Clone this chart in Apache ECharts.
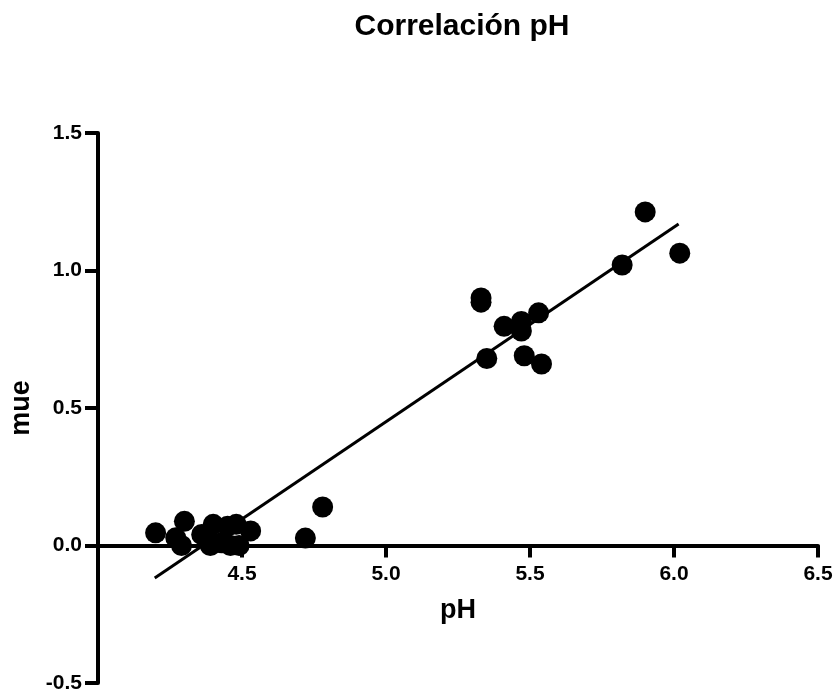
<!DOCTYPE html>
<html>
<head>
<meta charset="utf-8">
<script src="https://cdn.jsdelivr.net/npm/echarts@6/dist/echarts.min.js"></script>
<style>html,body{margin:0;padding:0;background:#fff}#c{width:835px;height:692px}</style>
</head>
<body>
<div id="c"></div>
<script>
const titleText = "Correlación pH";
const xName = "pH";
const yName = "mue";
const phValues = [4.20, 4.30, 4.27, 4.29, 4.36, 4.40, 4.38, 4.39, 4.45, 4.43, 4.48, 4.49, 4.46, 4.53, 4.72, 4.78, 5.33, 5.33, 5.35, 5.41, 5.47, 5.47, 5.48, 5.53, 5.54, 5.82, 5.90, 6.02];
const mueValues = [0.046, 0.088, 0.028, 0.0, 0.04, 0.077, 0.023, 0.0, 0.07, 0.01, 0.077, 0.0, 0.0, 0.053, 0.027, 0.14, 0.90, 0.885, 0.68, 0.797, 0.815, 0.78, 0.69, 0.846, 0.66, 1.02, 1.213, 1.063];
const fitX = [4.197, 6.016];
const fitY = [-0.118, 1.169];
const xTicks = [4.5, 5.0, 5.5, 6.0, 6.5];
const yTicks = [-0.5, 0.0, 0.5, 1.0, 1.5];

const FONT = "Liberation Sans, Arial, Helvetica, sans-serif";
const points = phValues.map((x, i) => [x, mueValues[i]]);
const fit = fitX.map((x, i) => [x, fitY[i]]);

const W = 835, H = 692;
const G = {left: 98, right: 17, top: 133, bottom: 9};
const yMin = -0.5, yMax = 1.5;
const gridH = H - G.top - G.bottom;
const xOffset = -((0 - yMin) / (yMax - yMin)) * gridH;

const chart = echarts.init(document.getElementById('c'), null, {renderer: 'canvas'});
chart.setOption({
  animation: false,
  backgroundColor: '#fff',
  title: {
    text: titleText, left: 457, top: 7, textAlign: 'center',
    textStyle: {fontFamily: FONT, fontWeight: 'bold', fontSize: 30, color: '#000'}
  },
  grid: Object.assign({containLabel: false, outerBoundsMode: 'none'}, G),
  xAxis: {
    type: 'value', min: 4.0, max: 6.5, interval: 0.5,
    offset: xOffset,
    name: xName, nameLocation: 'middle', nameGap: 52,
    nameTextStyle: {fontFamily: FONT, fontWeight: 'bold', fontSize: 27, color: '#000'},
    axisLine: {onZero: false, lineStyle: {color: '#000', width: 4}},
    axisTick: {show: true, length: 12, lineStyle: {color: '#000', width: 4},
      customValues: xTicks},
    axisLabel: {fontFamily: FONT, fontWeight: 'bold', fontSize: 21, color: '#000', margin: 18,
      customValues: xTicks,
      formatter: v => v.toFixed(1)},
    splitLine: {show: false}
  },
  yAxis: {
    type: 'value', min: yMin, max: yMax, interval: 0.5,
    name: yName, nameLocation: 'middle', nameGap: 56, nameRotate: 90,
    nameTextStyle: {fontFamily: FONT, fontWeight: 'bold', fontSize: 27, color: '#000'},
    axisLine: {show: true, onZero: false, lineStyle: {color: '#000', width: 4}},
    axisTick: {show: true, length: 13, lineStyle: {color: '#000', width: 4}, customValues: yTicks},
    axisLabel: {fontFamily: FONT, fontWeight: 'bold', fontSize: 21, color: '#000', margin: 16,
      customValues: yTicks,
      formatter: v => v.toFixed(1)},
    splitLine: {show: false}
  },
  series: [
    {
      type: 'scatter', data: points, symbol: 'circle', symbolSize: 21,
      itemStyle: {color: '#000', opacity: 1}, z: 3
    },
    {
      type: 'line', data: fit, symbol: 'none',
      lineStyle: {color: '#000', width: 3}, z: 4
    }
  ]
});
</script>
</body>
</html>
